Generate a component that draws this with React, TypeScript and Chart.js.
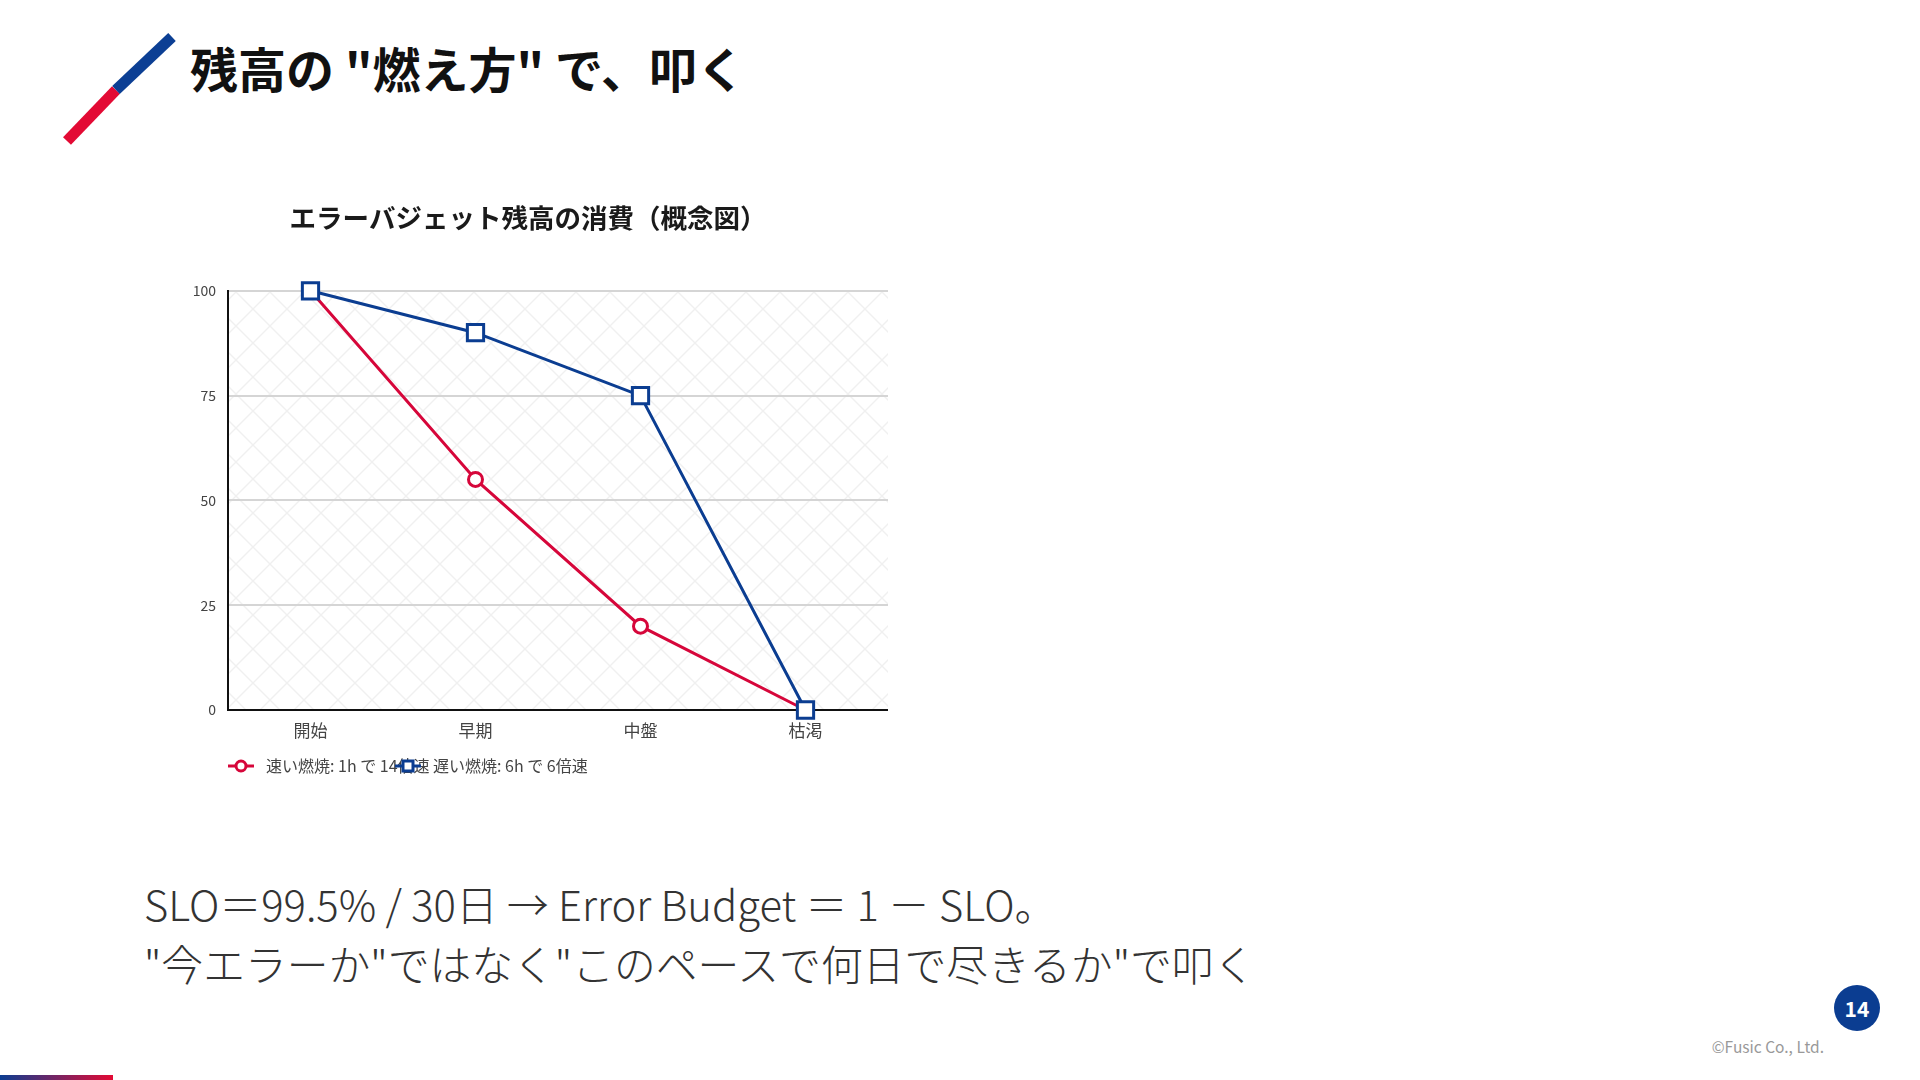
import React, { useEffect, useRef } from "react";
import { Chart, registerables } from "chart.js";

Chart.register(...registerables);

const FONT = '"Noto Sans CJK JP", "Noto Sans", sans-serif';

const categories = ["開始", "早期", "中盤", "枯渇"];
const fastBurn = [100, 55, 20, 0];
const slowBurn = [100, 90, 75, 0];
const seriesLabels = ["速い燃焼: 1h で 14倍速", "遅い燃焼: 6h で 6倍速"];
const yTicks = [0, 25, 50, 75, 100];
const chartTitle = "エラーバジェット残高の消費（概念図）";

const RED = "#d6063a";
const BLUE = "#0b3d91";

const hatchPlugin = {
  id: "hatchBg",
  beforeDraw(chart: any) {
    const { ctx, chartArea } = chart;
    if (!chartArea) return;
    const s = 34;
    const c = document.createElement("canvas");
    c.width = s;
    c.height = s;
    const p = c.getContext("2d")!;
    p.strokeStyle = "#f0f0f0";
    p.lineWidth = 1.4;
    p.beginPath();
    p.moveTo(0, 0);
    p.lineTo(s, s);
    p.moveTo(s, 0);
    p.lineTo(0, s);
    p.stroke();
    const pat = ctx.createPattern(c, "repeat");
    ctx.save();
    ctx.fillStyle = pat;
    ctx.fillRect(
      chartArea.left,
      chartArea.top,
      chartArea.right - chartArea.left,
      chartArea.bottom - chartArea.top
    );
    ctx.restore();
  },
};

const lineLegendPlugin = {
  id: "lineLegend",
  afterDraw(chart: any) {
    const { ctx, chartArea } = chart;
    const y = chartArea.bottom + 56;
    chart.data.datasets.forEach((ds: any, i: number) => {
      const cx = chartArea.left + 13 + i * 167;
      ctx.save();
      ctx.strokeStyle = ds.borderColor;
      ctx.lineWidth = 3;
      ctx.beginPath();
      ctx.moveTo(cx - 13, y);
      ctx.lineTo(cx + 13, y);
      ctx.stroke();
      ctx.fillStyle = "#ffffff";
      ctx.beginPath();
      if (ds.pointStyle === "rect") {
        ctx.rect(cx - 5, y - 5, 10, 10);
      } else {
        ctx.arc(cx, y, 5, 0, Math.PI * 2);
      }
      ctx.fill();
      ctx.stroke();
      ctx.fillStyle = "#444444";
      ctx.font = `16px ${FONT}`;
      ctx.textBaseline = "middle";
      ctx.textAlign = "left";
      ctx.fillText(ds.label, cx + 25, y);
      ctx.restore();
    });
  },
};

function BurnChart() {
  const ref = useRef<HTMLCanvasElement | null>(null);
  useEffect(() => {
    if (!ref.current) return;
    const chart = new Chart(ref.current, {
      type: "line",
      data: {
        labels: categories,
        datasets: [
          {
            label: seriesLabels[0],
            data: fastBurn,
            order: 1,
            clip: false,
            borderColor: RED,
            backgroundColor: "#ffffff",
            borderWidth: 3,
            pointStyle: "circle",
            pointRadius: 7,
            pointBorderWidth: 3,
            pointBackgroundColor: "#ffffff",
            pointBorderColor: RED,
            tension: 0,
          },
          {
            label: seriesLabels[1],
            data: slowBurn,
            order: 0,
            clip: false,
            borderColor: BLUE,
            backgroundColor: "#ffffff",
            borderWidth: 3,
            pointStyle: "rect",
            pointRadius: 11.5,
            pointBorderWidth: 3,
            pointBackgroundColor: "#ffffff",
            pointBorderColor: BLUE,
            tension: 0,
          },
        ],
      },
      options: {
        animation: false,
        responsive: true,
        maintainAspectRatio: false,
        layout: { autoPadding: false, padding: { top: 0, left: 0, right: 0, bottom: 40 } },
        plugins: {
          legend: { display: false },
          tooltip: { enabled: false },
          title: {
            display: true,
            text: chartTitle,
            color: "#1a1a1a",
            font: { size: 26.5, weight: "bold", family: FONT },
            padding: { top: 12, bottom: 57 },
          },
        },
        scales: {
          x: {
            offset: true,
            grid: { display: false, drawTicks: false },
            border: { display: true, color: "#111111", width: 2 },
            ticks: { color: "#444444", font: { size: 17, family: FONT }, padding: 10 },
            afterFit(s: any) {
              s.height = 36;
              s.paddingLeft = 0;
              s.paddingRight = 0;
            },
          },
          y: {
            min: 0,
            max: 100,
            afterBuildTicks(axis: any) {
              axis.ticks = yTicks.map((v) => ({ value: v }));
            },
            grid: { color: "#d5d5d5", lineWidth: 2, drawTicks: false },
            border: { display: true, color: "#111111", width: 2 },
            ticks: { color: "#444444", font: { size: 14, family: FONT }, padding: 12 },
            afterFit(s: any) {
              s.width = 60;
            },
          },
        },
      } as any,
      plugins: [hatchPlugin, lineLegendPlugin],
    });
    return () => chart.destroy();
  }, []);
  return <canvas ref={ref} />;
}

export default function App() {
  return (
    <div
      style={{
        position: "absolute",
        left: 0,
        top: 0,
        width: 1920,
        height: 1080,
        background: "#ffffff",
        overflow: "hidden",
        fontFamily: FONT,
      }}
    >
      <svg
        width={220}
        height={170}
        style={{ position: "absolute", left: 0, top: 0 }}
      >
        <line x1={67} y1={141} x2={116} y2={90} stroke="#e30a34" strokeWidth={11} />
        <line x1={116} y1={90} x2={172} y2={37} stroke="#0c3f94" strokeWidth={11} />
      </svg>
      <div
        style={{
          position: "absolute",
          left: 190,
          top: 43,
          fontSize: 48,
          lineHeight: "48px",
          fontWeight: 700,
          color: "#111111",
          whiteSpace: "nowrap",
        }}
      >
        残高の "燃え方" で、叩く
      </div>

      <div style={{ position: "absolute", left: 168, top: 190, width: 720, height: 596 }}>
        <BurnChart />
      </div>

      <div
        style={{
          position: "absolute",
          left: 144,
          top: 873,
          fontSize: 41.8,
          lineHeight: "60px",
          fontWeight: 300,
          color: "#333333",
          whiteSpace: "nowrap",
        }}
      >
        <div>SLO＝99.5% / 30日 → Error Budget ＝ 1 － SLO。</div>
        <div>"今エラーか"ではなく"このペースで何日で尽きるか"で叩く</div>
      </div>

      <div
        style={{
          position: "absolute",
          left: 1834,
          top: 985,
          width: 46,
          height: 46,
          borderRadius: "50%",
          background: "#0b3d91",
          color: "#ffffff",
          fontWeight: 700,
          fontSize: 21,
          lineHeight: "46px",
          textAlign: "center",
        }}
      >
        14
      </div>
      <div
        style={{
          position: "absolute",
          right: 1920 - 1824,
          top: 1036,
          fontSize: 15.5,
          lineHeight: "20px",
          color: "#999999",
          whiteSpace: "nowrap",
        }}
      >
        ©Fusic Co., Ltd.
      </div>
      <div
        style={{
          position: "absolute",
          left: 0,
          top: 1075,
          width: 113,
          height: 5,
          background: "linear-gradient(to right, #0b3d91, #e30a34)",
        }}
      />
    </div>
  );
}
